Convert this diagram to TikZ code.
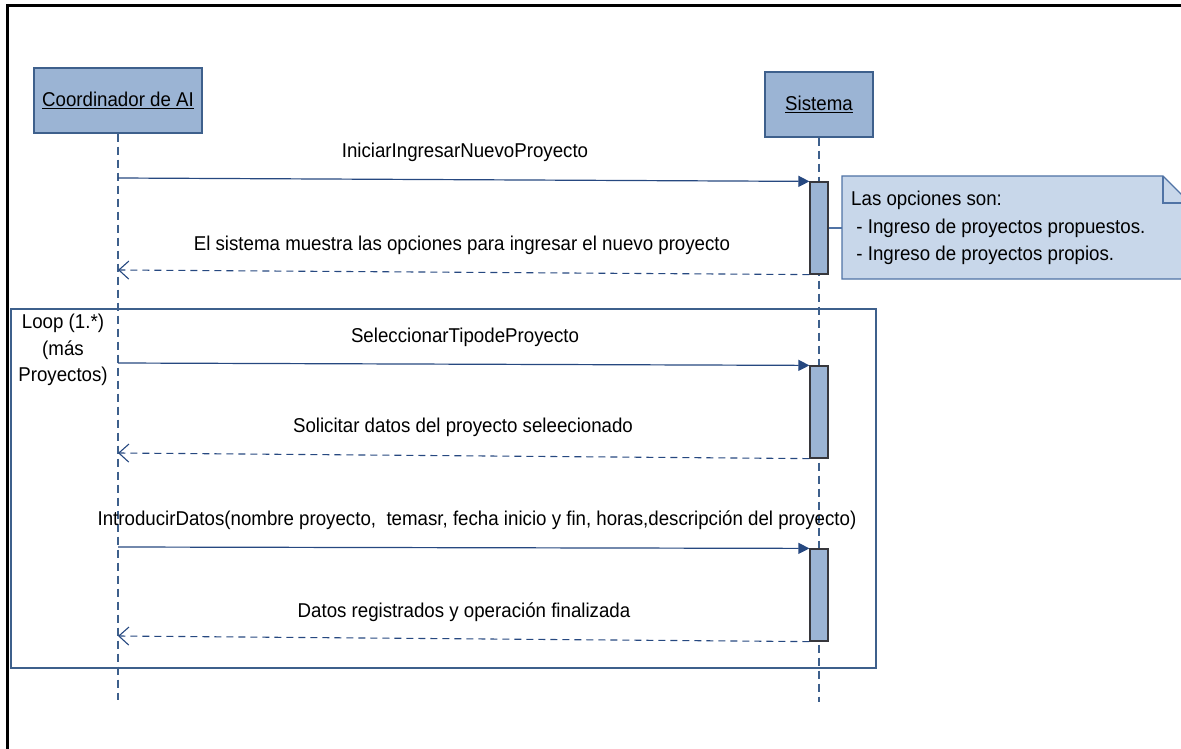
\documentclass[tikz,border=0pt]{standalone}
\usepackage{fontspec}
\setmainfont{Liberation Sans}[FakeStretch=0.935]
\usetikzlibrary{arrows.meta}

\definecolor{actfill}{RGB}{155,180,212}
\definecolor{actline}{RGB}{62,96,140}
\definecolor{msgline}{RGB}{38,72,128}
\definecolor{notefill}{RGB}{200,215,234}
\definecolor{noteline}{RGB}{80,115,165}
\definecolor{barline}{RGB}{55,55,60}

\begin{document}
\begin{tikzpicture}[x=1pt,y=-1pt,
  every node/.style={font=\fontsize{20}{26.5}\selectfont, inner sep=0pt},
  actorbox/.style={draw=actline, fill=actfill, line width=1.2pt, minimum height=65pt},
  lifeline/.style={draw=actline, line width=1.2pt, dash pattern=on 8pt off 5pt},
  actbar/.style={draw=barline, fill=actfill, line width=1.2pt, minimum width=18pt, minimum height=92pt},
  call/.style={draw=msgline, line width=1.2pt, -{Triangle[length=11pt,width=11pt]}},
  ret/.style={draw=msgline, line width=1.1pt, dash pattern=on 7pt off 5pt, -{Straight Barb[length=10pt,width=18pt]}},
  msglabel/.style={anchor=center},
  frameline/.style={draw=actline, line width=1.6pt}]

\useasboundingbox (0,0) rectangle (1181,749);

% outer page frame
\draw[line width=3pt] (7,760) -- (7,6) -- (1181,6);

% participants
\node[actorbox, minimum width=168pt] (coord) at (118,100.5) {\underline{Coordinador de AI}};
\node[actorbox, minimum width=108pt] (sis) at (819,104.5) {\underline{Sistema}};

% lifeline ends
\coordinate (coordend) at (118,700);
\coordinate (sisend) at (819,702);
\draw[lifeline] (coord.south) -- (coordend);
\draw[lifeline] (sis.south) -- (sisend);

% activation bars
\node[actbar] (act1) at (819,228) {};
\node[actbar] (act2) at (819,412) {};
\node[actbar] (act3) at (819,595) {};

% loop fragment
\coordinate (loopnw) at (11,309);
\coordinate (loopse) at (876,668);
\draw[frameline] (loopnw) rectangle (loopse);
\node[align=center] (looplabel) at (63,350) {Loop (1.*)\\(más\\Proyectos)};

% message anchors on the actor's lifeline
\coordinate (m1) at (118,178);
\coordinate (r1) at (118,270);
\coordinate (m2) at (118,363);
\coordinate (r2) at (118,453);
\coordinate (m3) at (118,547);
\coordinate (r3) at (118,636);

\draw[call] (m1) -- (act1.north west);
\draw[ret] (act1.south west) -- (r1);
\draw[call] (m2) -- (act2.north west);
\draw[ret] (act2.south west) -- (r2);
\draw[call] (m3) -- (act3.north west);
\draw[ret] (act3.south west) -- (r3);

% message labels
\node[msglabel] (l1) at (465,152) {IniciarIngresarNuevoProyecto};
\node[msglabel] (l2) at (462,245) {El sistema muestra las opciones para ingresar el nuevo proyecto};
\node[msglabel] (l3) at (465,337) {SeleccionarTipodeProyecto};
\node[msglabel] (l4) at (463,427) {Solicitar datos del proyecto seleecionado};
\node[msglabel] (l5) at (477,520) {IntroducirDatos(nombre proyecto,\ \ temasr, fecha inicio y fin, horas,descripción del proyecto)};
\node[msglabel] (l6) at (464,612) {Datos registrados y operación finalizada};

% note attached to the first activation
\draw[draw=noteline, fill=notefill, line width=1.2pt]
  (842,176) -- (1163,176) -- (1190,203) -- (1190,279) -- (842,279) -- cycle;
\draw[draw=noteline, line width=1.2pt] (1163,176) -- (1163,203) -- (1190,203);
\node[anchor=west, align=left, font=\fontsize{20}{27.5}\selectfont] (note) at (851,228)
  {Las opciones son:\\\ - Ingreso de proyectos propuestos.\\\ - Ingreso de proyectos propios.};
\coordinate (notein) at (842,228);
\draw[draw=noteline, line width=1.2pt] (act1.east) -- (notein);

\end{tikzpicture}
\end{document}
